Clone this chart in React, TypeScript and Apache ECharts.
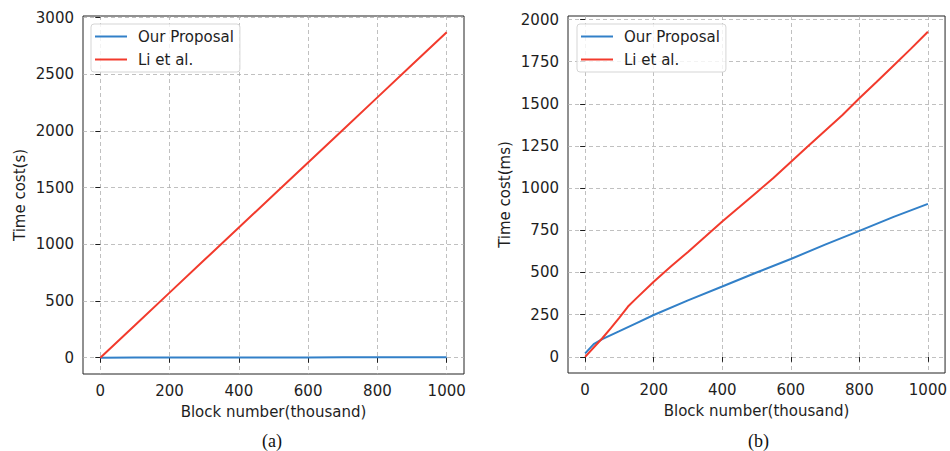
import React, { useEffect, useRef } from "react";
import * as echarts from "echarts";

const xTicks = [0, 200, 400, 600, 800, 1000];
const yTicksA = [0, 500, 1000, 1500, 2000, 2500, 3000];
const yTicksB = [0, 250, 500, 750, 1000, 1250, 1500, 1750, 2000];

const seriesNames = ["Our Proposal", "Li et al."];

const blocksA = [0, 100, 200, 300, 400, 500, 600, 700, 800, 900, 1000];
const proposalA = [0, 1, 1, 2, 2, 3, 3, 4, 4, 5, 5];
const liA = [0, 287, 574, 861, 1148, 1435, 1722, 2009, 2296, 2583, 2870];

const blocksProposalB = [0, 25, 50, 100, 150, 200, 300, 400, 500, 600, 700, 800, 900, 1000];
const proposalB = [20, 75, 105, 152, 200, 248, 335, 417, 500, 580, 665, 747, 830, 907];

const blocksLiB = [0, 25, 50, 75, 100, 125, 150, 200, 250, 300, 350, 400, 450, 500, 550, 600, 650, 700, 750, 800, 850, 900, 950, 1000];
const liB = [0, 55, 110, 170, 232, 298, 348, 445, 535, 622, 712, 803, 888, 975, 1062, 1155, 1248, 1340, 1432, 1533, 1630, 1728, 1826, 1928];

const BLUE = "#3280c8";
const RED = "#f23a2c";
const TEXT = "#1e1e1e";
const FONT = "DejaVu Sans";
const FS = 15;

const pairs = (xs: number[], ys: number[]) => xs.map((x, i) => [x, ys[i]]);
const plain = (v: number) => String(v);

function xAxis(gridIndex: number) {
  return {
    type: "value",
    gridIndex,
    min: -50,
    max: 1050,
    name: "Block number(thousand)",
    nameLocation: "middle",
    nameGap: 30,
    nameTextStyle: { fontFamily: FONT, fontSize: FS, color: TEXT },
    axisLine: { show: false },
    axisTick: { show: true, inside: false, length: 5, customValues: xTicks, lineStyle: { color: TEXT, width: 1 } },
    axisLabel: { customValues: xTicks, formatter: plain, margin: 9, fontFamily: FONT, fontSize: FS, color: TEXT },
    splitLine: { show: true, lineStyle: { type: [4, 3], color: "#b0b0b0", width: 0.8 } },
  };
}

function yAxis(gridIndex: number, min: number, max: number, ticks: number[], name: string) {
  return {
    type: "value",
    gridIndex,
    min,
    max,
    name,
    nameLocation: "middle",
    nameGap: 56,
    nameTextStyle: { fontFamily: FONT, fontSize: FS, color: TEXT },
    axisLine: { show: false },
    axisTick: { show: true, inside: false, length: 5, customValues: ticks, lineStyle: { color: TEXT, width: 1 } },
    axisLabel: { customValues: ticks, formatter: plain, margin: 9, fontFamily: FONT, fontSize: FS, color: TEXT },
    splitLine: { show: true, lineStyle: { type: [4, 3], color: "#b0b0b0", width: 0.8 } },
  };
}

function legend(left: number) {
  return {
    left,
    top: 24,
    orient: "vertical",
    data: seriesNames,
    icon: "rect",
    itemWidth: 32,
    itemHeight: 2,
    itemGap: 8,
    padding: [5, 6, 5, 4],
    borderColor: "#d5d5d5",
    borderWidth: 1,
    borderRadius: 3,
    backgroundColor: "rgba(255,255,255,0.8)",
    textStyle: { fontFamily: FONT, fontSize: FS, color: TEXT, padding: [0, 0, 0, 6] },
  };
}

function line(name: string, color: string, xi: number, data: number[][]) {
  return {
    type: "line",
    name,
    xAxisIndex: xi,
    yAxisIndex: xi,
    data,
    showSymbol: false,
    symbol: "none",
    lineStyle: { color, width: 2 },
    itemStyle: { color },
  };
}

export default function App() {
  const ref = useRef<HTMLDivElement>(null);
  useEffect(() => {
    if (!ref.current) return;
    const chart = echarts.init(ref.current, null, { renderer: "svg" });
    chart.setOption({
      animation: false,
      backgroundColor: "#ffffff",
      grid: [
        { left: 83, top: 16, width: 381, height: 358, show: true, borderColor: "#222", borderWidth: 1, backgroundColor: "transparent" },
        { left: 568, top: 16, width: 380, height: 357, show: true, borderColor: "#222", borderWidth: 1, backgroundColor: "transparent" },
      ],
      xAxis: [xAxis(0), xAxis(1)],
      yAxis: [
        yAxis(0, -143.5, 3013.5, yTicksA, "Time cost(s)"),
        yAxis(1, -96, 2021, yTicksB, "Time cost(ms)"),
      ],
      legend: [legend(91), legend(577)],
      series: [
        line(seriesNames[0], BLUE, 0, pairs(blocksA, proposalA)),
        line(seriesNames[1], RED, 0, pairs(blocksA, liA)),
        line(seriesNames[0], BLUE, 1, pairs(blocksProposalB, proposalB)),
        line(seriesNames[1], RED, 1, pairs(blocksLiB, liB)),
      ],
      graphic: [
        { type: "text", left: 262, top: 432, style: { text: "(a)", fontFamily: "Liberation Serif", fontSize: 18, fill: "#111" } },
        { type: "text", left: 748, top: 432, style: { text: "(b)", fontFamily: "Liberation Serif", fontSize: 18, fill: "#111" } },
      ],
    });
    return () => chart.dispose();
  }, []);
  return <div ref={ref} style={{ position: "fixed", left: 0, top: 0, width: 950, height: 451 }} />;
}
